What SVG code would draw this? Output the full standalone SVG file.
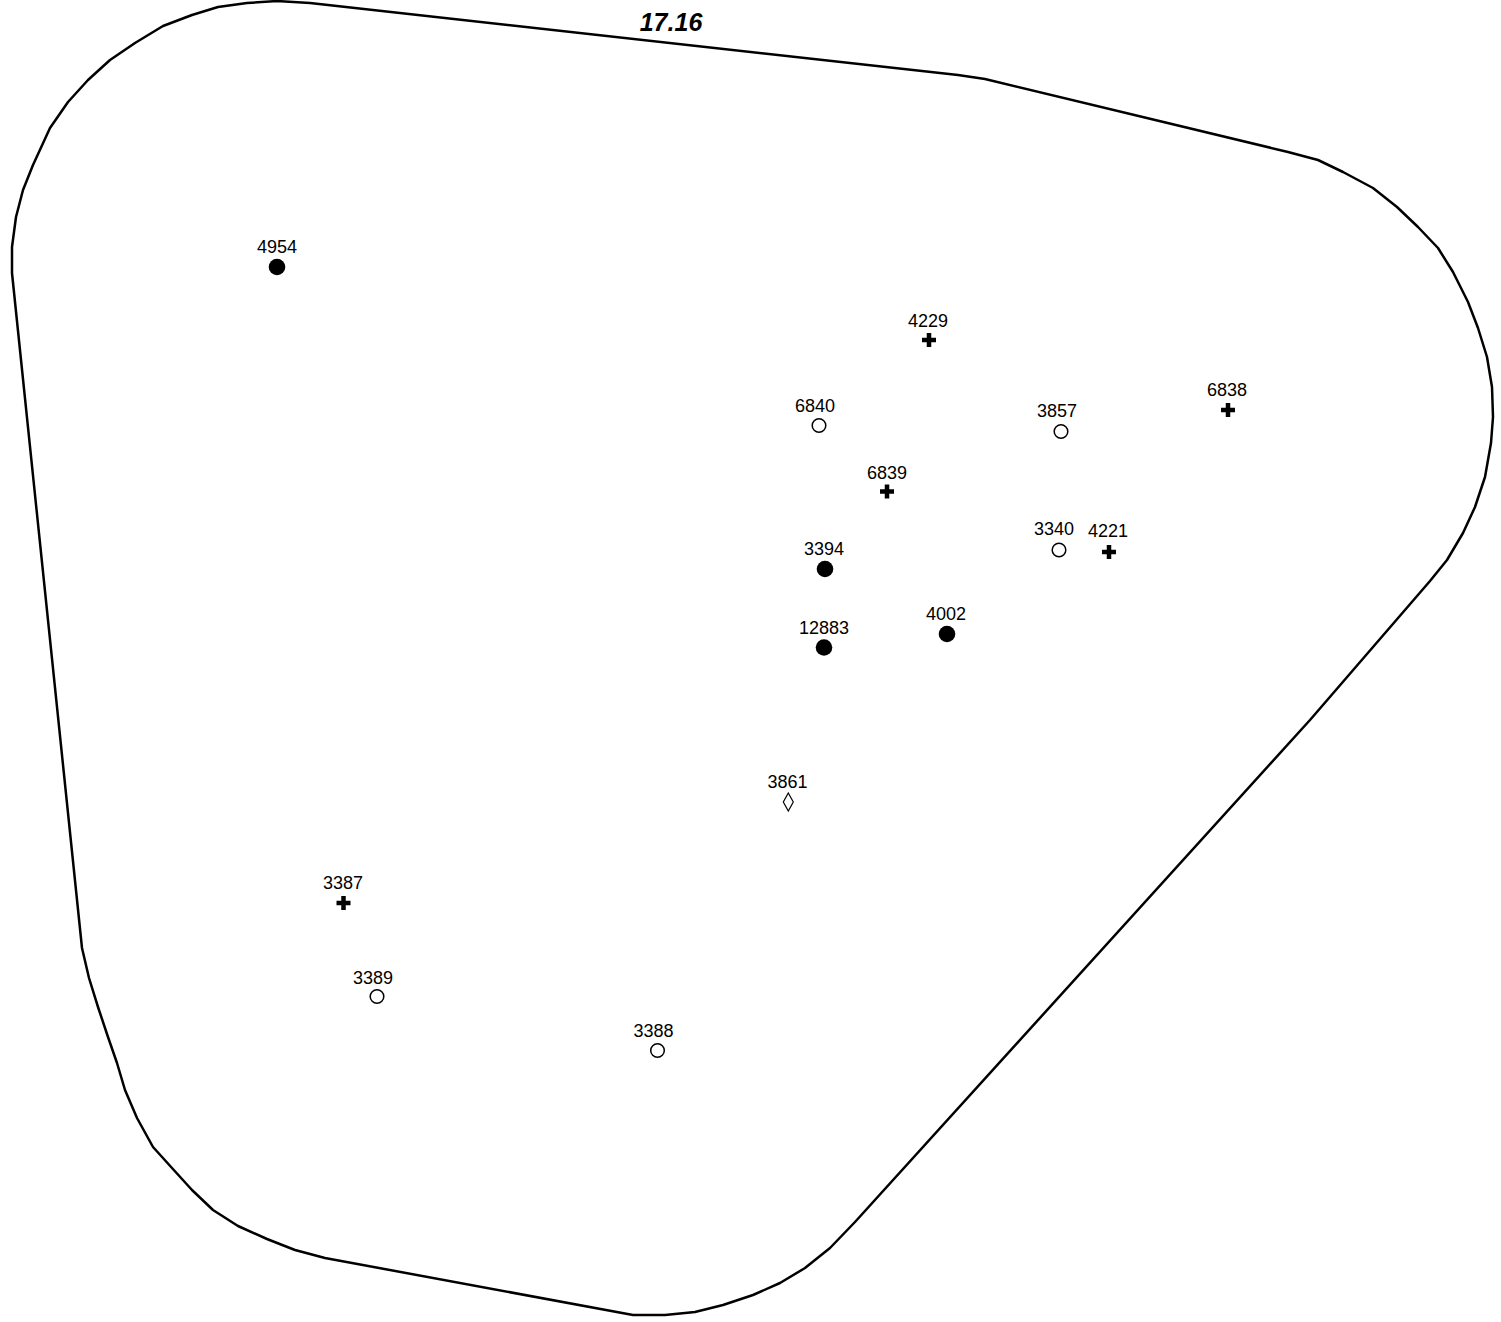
<svg xmlns="http://www.w3.org/2000/svg" width="1501" height="1322" viewBox="0 0 1501 1322">
<style>
  .outline { fill: none; stroke: #000; stroke-width: 2.5; stroke-linejoin: round; }
  .lbl { font-family: "Liberation Sans", Arial, sans-serif; font-size: 18px; fill: #000; text-anchor: middle; }
  .title { font-family: "Liberation Sans", Arial, sans-serif; font-size: 25px; font-weight: bold; font-style: italic; fill: #000; text-anchor: middle; }
  .dot { fill: #000; }
  .ring { fill: #fff; stroke: #000; stroke-width: 1.5; }
  .plus { stroke: #000; stroke-width: 4.5; fill: none; }
  .diam { fill: #fff; stroke: #000; stroke-width: 1.2; }
</style>
<defs>
  <path id="plusShape" class="plus" d="M-7,0 H7 M0,-7 V7"/>
</defs>
<rect width="1501" height="1322" fill="#fff"/>
<g id="boundary">
  <path class="outline" d="M277,1 L310,3 L958,75 L985,79 L1288,152 L1318,160 L1343,172 L1373,188 L1397,207 L1418,227 L1438,248 L1453,272 L1468,302 L1478,328 L1487,357 L1492,387 L1493,417 L1491,443 L1485,477 L1475,507 L1463,533 L1447,560 L1430,581 L1310,720 L855,1222 L830,1248 L805,1268 L780,1283 L753,1295 L723,1305 L695,1312 L665,1315 L633,1315 L325,1258 L295,1250 L267,1239 L238,1226 L213,1210 L192,1190 L172,1168 L153,1147 L137,1118 L125,1090 L117,1063 L108,1037 L98,1007 L89,978 L82,948 L12,273 L12,247 L16,217 L23,190 L33,165 L50,128 L68,102 L88,80 L110,60 L135,43 L163,26 L192,15 L218,7 L247,3 Z"/>
  <text class="title" x="671" y="31">17.16</text>
</g>
<g id="connectors"></g>
<g id="n4954"><circle class="dot" cx="277" cy="267" r="8.3"/><text class="lbl" x="277" y="253">4954</text></g>
<g id="n4229"><use href="#plusShape" x="929" y="340"/><text class="lbl" x="928" y="327">4229</text></g>
<g id="n6840"><circle class="ring" cx="819" cy="425.5" r="6.8"/><text class="lbl" x="815" y="412">6840</text></g>
<g id="n3857"><circle class="ring" cx="1061" cy="431.5" r="6.8"/><text class="lbl" x="1057" y="417">3857</text></g>
<g id="n6838"><use href="#plusShape" x="1228" y="410"/><text class="lbl" x="1227" y="396">6838</text></g>
<g id="n6839"><use href="#plusShape" x="887" y="491.5"/><text class="lbl" x="887" y="479">6839</text></g>
<g id="n3340"><circle class="ring" cx="1059" cy="550" r="6.8"/><text class="lbl" x="1054" y="535">3340</text></g>
<g id="n4221"><use href="#plusShape" x="1109" y="552"/><text class="lbl" x="1108" y="537">4221</text></g>
<g id="n3394"><circle class="dot" cx="825" cy="569" r="8.3"/><text class="lbl" x="824" y="555">3394</text></g>
<g id="n12883"><circle class="dot" cx="824" cy="647.5" r="8.3"/><text class="lbl" x="824" y="634">12883</text></g>
<g id="n4002"><circle class="dot" cx="947" cy="634" r="8.3"/><text class="lbl" x="946" y="620">4002</text></g>
<g id="n3861"><path class="diam" d="M788.3,793 L793.3,802 L788.3,811 L783.3,802 Z"/><text class="lbl" x="787.5" y="788">3861</text></g>
<g id="n3387"><use href="#plusShape" x="343.5" y="903"/><text class="lbl" x="343" y="889">3387</text></g>
<g id="n3389"><circle class="ring" cx="377" cy="996.5" r="6.8"/><text class="lbl" x="373" y="984">3389</text></g>
<g id="n3388"><circle class="ring" cx="657.5" cy="1050.5" r="6.8"/><text class="lbl" x="653.5" y="1037">3388</text></g>
</svg>
